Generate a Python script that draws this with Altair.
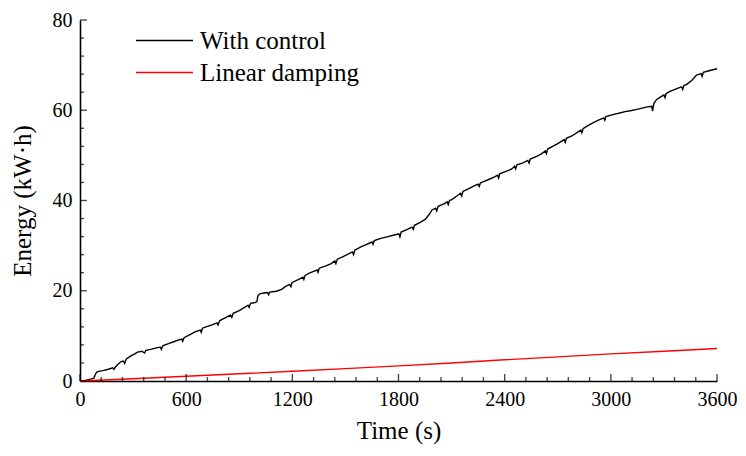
import altair as alt
import pandas as pd

# With control
ctrl_t = [0, 30, 60, 78, 86, 95, 110, 130, 160, 185, 192, 200, 215, 232, 245, 252, 262, 290, 310, 325,
          350, 365, 372, 400, 437, 455, 460, 468, 500, 530, 550, 575, 580, 588, 622, 650, 680, 685, 692,
          720, 750, 774, 780, 790, 820, 850, 858, 866, 900, 930, 950, 956, 964, 990, 1000, 1005, 1015,
          1040, 1060, 1066, 1072, 1110, 1140, 1160, 1185, 1192, 1198, 1230, 1260, 1265, 1272, 1296, 1320,
          1340, 1345, 1352, 1390, 1420, 1440, 1446, 1454, 1484, 1520, 1540, 1546, 1553, 1590, 1620, 1650,
          1656, 1663, 1700, 1740, 1770, 1802, 1808, 1815, 1850, 1877, 1884, 1890, 1920, 1951, 1975, 1989,
          2010, 2016, 2024, 2060, 2075, 2081, 2088, 2101, 2130, 2150, 2157, 2164, 2194, 2230, 2250, 2256,
          2263, 2306, 2340, 2360, 2366, 2372, 2418, 2440, 2456, 2462, 2469, 2500, 2531, 2538, 2545, 2587,
          2610, 2630, 2636, 2643, 2671, 2700, 2736, 2742, 2749, 2780, 2830, 2836, 2843, 2870, 2904, 2930,
          2960, 2966, 2972, 3017, 3050, 3080, 3110, 3147, 3200, 3231, 3236, 3243, 3259, 3280, 3300, 3306,
          3313, 3334, 3380, 3400, 3406, 3413, 3428, 3460, 3484, 3510, 3516, 3523, 3560, 3600]
ctrl_e = [0.0, 0.15, 0.4, 0.6, 1.4, 2.0, 2.2, 2.3, 2.6, 2.9, 2.6, 3.1, 3.7, 4.3, 4.4, 3.9, 4.9, 5.6, 6.0, 6.4,
          6.6, 6.2, 6.8, 7.0, 7.4, 7.5, 7.0, 7.8, 8.3, 8.7, 9.0, 9.3, 8.8, 9.6, 10.3, 10.9, 11.3, 10.8, 11.7,
          12.1, 12.5, 12.9, 12.4, 13.4, 14.0, 14.6, 14.1, 15.0, 15.6, 16.3, 16.8, 16.3, 17.2, 17.4, 17.6, 18.8, 19.3,
          19.5, 19.6, 19.1, 19.7, 19.9, 20.3, 20.9, 21.4, 20.9, 21.8, 22.4, 23.0, 22.5, 23.4, 23.9, 24.3,
          24.6, 24.1, 25.0, 25.5, 26.0, 26.6, 26.0, 27.0, 27.5, 28.2, 28.6, 28.0, 29.0, 29.8, 30.3, 30.8,
          30.3, 31.1, 31.6, 32.0, 32.3, 32.6, 31.9, 33.0, 33.6, 34.1, 33.6, 34.5, 35.1, 35.8, 37.0, 37.9,
          38.3, 37.7, 38.7, 39.3, 39.7, 39.1, 40.0, 40.2, 41.0, 41.6, 41.0, 42.0, 42.6, 43.3, 43.6, 43.1,
          43.9, 44.6, 45.2, 45.6, 45.0, 45.9, 46.6, 47.0, 47.6, 47.0, 47.9, 48.3, 48.9, 48.3, 49.2, 49.9,
          50.4, 51.0, 50.4, 51.4, 52.0, 52.6, 53.5, 52.9, 53.8, 54.3, 55.6, 55.0, 55.9, 56.6, 57.3, 57.8,
          58.3, 57.8, 58.6, 59.1, 59.4, 59.7, 59.9, 60.2, 60.7, 60.9, 59.8, 61.5, 62.4, 62.9, 63.4, 62.8,
          63.7, 64.2, 64.9, 65.2, 64.6, 65.5, 65.7, 66.7, 67.8, 68.1, 67.5, 68.4, 68.8, 69.2]

# Linear damping
lin_t = [0, 300, 600, 900, 1200, 1500, 1800, 2100, 2400, 2700, 3000, 3300, 3600]
lin_e = [0, 0.5, 1.05, 1.6, 2.15, 2.75, 3.35, 4.0, 4.7, 5.35, 6.0, 6.6, 7.2]

series_names = ["With control", "Linear damping"]
series_colors = ["#000000", "#ff0000"]

x_major = [0, 600, 1200, 1800, 2400, 3000, 3600]
x_minor = [120, 240, 360, 480, 720, 840, 960, 1080, 1320, 1440, 1560, 1680, 1920, 2040, 2160, 2280,
           2520, 2640, 2760, 2880, 3120, 3240, 3360, 3480]
y_major = [0, 20, 40, 60, 80]
y_minor = [4, 8, 12, 16, 24, 28, 32, 36, 44, 48, 52, 56, 64, 68, 72, 76]

FONT = "Liberation Serif"

df = pd.concat([
    pd.DataFrame({"t": ctrl_t, "e": ctrl_e, "series": series_names[0], "order": range(len(ctrl_t))}),
    pd.DataFrame({"t": lin_t, "e": lin_e, "series": series_names[1], "order": range(len(lin_t))}),
])

xscale = alt.Scale(domain=[0, 3600], nice=False, zero=False)
yscale = alt.Scale(domain=[0, 80], nice=False)

lines = alt.Chart(df).mark_line(strokeWidth=1.4, interpolate="linear").encode(
    x=alt.X("t:Q", scale=xscale,
            axis=alt.Axis(values=x_major, format="d", title="Time (s)", ticks=False, tickSize=0, grid=False,
                          labelPadding=8, titlePadding=9, domainColor="black", domainWidth=1.6,
                          labelFlush=False)),
    y=alt.Y("e:Q", scale=yscale,
            axis=alt.Axis(values=y_major, format="d", title="Energy (kW·h)", ticks=False, tickSize=0, grid=False,
                          labelPadding=8, titlePadding=17, domainColor="black", domainWidth=1.6,
                          labelFlush=False)),
    color=alt.Color("series:N", scale=alt.Scale(domain=series_names, range=series_colors),
                    legend=alt.Legend(title=None, orient="none", legendX=55, legendY=8,
                                      symbolType="stroke", symbolSize=3249, symbolStrokeWidth=1.3,
                                      clipHeight=25, rowPadding=6, labelOffset=6, padding=0,
                                      labelFont=FONT, labelFontSize=25, labelColor="black")),
    order="order:Q",
)

def xticks(vals, size):
    return alt.Chart(pd.DataFrame({"t": vals})).mark_tick(
        orient="vertical", size=size, thickness=1.4, color="black", yOffset=-size / 2
    ).encode(x=alt.X("t:Q", scale=xscale), y=alt.Y(datum=0, scale=yscale))

def yticks(vals, size):
    return alt.Chart(pd.DataFrame({"e": vals})).mark_tick(
        orient="horizontal", size=size, thickness=1.4, color="black", xOffset=size / 2
    ).encode(y=alt.Y("e:Q", scale=yscale), x=alt.X(datum=0, scale=xscale))

chart = alt.layer(
    lines, xticks(x_major, 7), xticks(x_minor, 4), yticks(y_major, 7), yticks(y_minor, 4)
).properties(
    width=637, height=361,
    background="white",
    autosize=alt.AutoSizeParams(type="none"),
    padding={"left": 72, "top": 12, "right": 21, "bottom": 64},
).configure_view(stroke=None).configure_axis(
    labelFont=FONT, labelFontSize=20, labelColor="black",
    titleFont=FONT, titleFontSize=25, titleFontWeight="normal", titleColor="black",
)

chart.save("out.html", embed_options={"renderer": "svg", "actions": False})
